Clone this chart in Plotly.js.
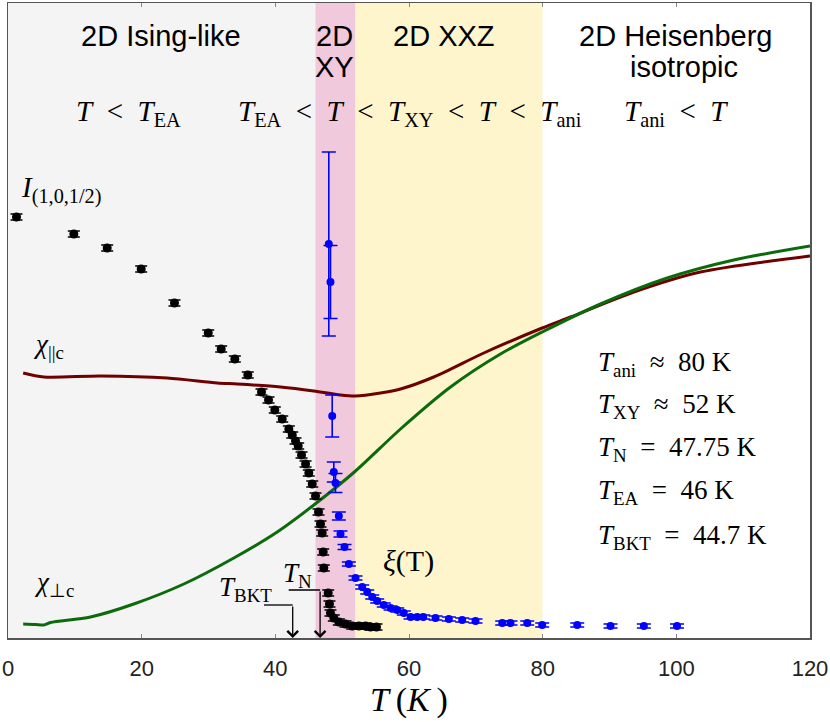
<!DOCTYPE html>
<html>
<head>
<meta charset="utf-8">
<script src="https://cdn.plot.ly/plotly-3.0.1.min.js"></script>
<style>html,body{margin:0;padding:0;background:#fff;}#plot{width:830px;height:722px;}</style>
</head>
<body>
<div id="plot"></div>
<script>
// ---- data (T in K, intensities in arbitrary units) ----
const intT = [1.27, 9.85, 14.84, 19.93, 24.91, 29.96, 31.9, 33.94, 35.88, 37.93, 38.98, 39.92, 41.03, 42.02, 42.53, 43.02, 43.42, 43.92, 44.52, 45.01, 45.52, 46.01, 46.46, 46.76, 47.01, 47.16, 47.25, 47.91, 48.1, 48.25, 48.75, 49.5, 50.5, 51.5, 52.5, 53.5, 54.24, 55.14];
const intY = [421, 404, 390, 369, 335, 305, 289, 279, 263, 246, 238, 228, 219, 209, 203, 197, 192, 183, 174, 165, 154, 142, 126, 114, 105, 86, 70, 45, 34, 25, 20, 16, 14, 12, 12, 12, 11, 11];

const xiT = [48.0, 48.25, 48.51, 48.75, 49.0, 49.5, 49.75, 50.35, 51.0, 52.0, 53.0, 53.75, 54.5, 55.24, 56.23, 57.24, 58.24, 59.22, 60.23, 61.23, 62.13, 63.97, 65.96, 67.96, 69.95, 73.95, 75.19, 77.69, 79.93, 85.17, 90.15, 95.14, 100.1];
const xiY = [394, 356, 222, 166, 155, 122, 104, 91, 74, 60, 51, 46, 41, 37, 33, 30, 28, 25, 21, 21, 21, 20, 19, 18, 17, 15, 15, 15, 13, 13, 12, 12, 12];
const xiErr = [92, 36.5, 21, 10, 9.5, 4, 3, 2.5, 2, 2, 2, 2, 2, 2, 2, 2, 2, 2, 2, 2, 2, 2, 2, 2, 2, 2, 2, 2, 2, 2, 2, 2, 2];

const chiParT = [2.27, 5.36, 13.84, 23.82, 31.3, 34.3, 40.78, 45.76, 49.75, 51.99, 55.73, 58.73, 63.71, 71.19, 79.93, 84.17, 93.64, 103.6, 120];
const chiParY = [265, 261, 262, 260, 255, 254, 251, 247, 243, 242, 245, 249, 261, 285, 310, 321, 346, 366, 382];

const chiPerpT = [2.27, 4.11, 5.36, 6.36, 12.34, 18.82, 26.31, 33.79, 40.28, 45.76, 52.0, 58.73, 66.21, 73.69, 79.93, 88.66, 98.64, 108.6, 120];
const chiPerpY = [14, 13.5, 13, 15.5, 21, 34, 54, 80, 106, 133, 167, 209, 251, 284, 306, 334, 360, 378, 392];

const regionEdges = [0, 46, 52, 80, 120];
const regionColors = ['#f4f4f4', '#f0c9dc', '#fff5cd', '#ffffff'];
const xTicks = [0, 20, 40, 60, 80, 100, 120];
const arrowT = {BKT: 42.6, N: 46.7};

// ---- layout helpers ----
const SERIF = 'Liberation Serif, Times New Roman, serif';
const SANS = 'Liberation Sans, Arial, sans-serif';
const E = '\u2002';

const shapes = [];
for (let i = 0; i < regionColors.length; i++) {
  shapes.push({type: 'rect', xref: 'x', yref: 'paper', x0: regionEdges[i], x1: regionEdges[i + 1], y0: 0, y1: 1,
    fillcolor: regionColors[i], line: {width: 0}, layer: 'below'});
}
shapes.push({type: 'line', xref: 'x', yref: 'y', x0: 38.3, x1: arrowT.BKT, y0: 33, y1: 33, line: {color: '#000', width: 1.3}});
shapes.push({type: 'line', xref: 'x', yref: 'y', x0: 42.0, x1: arrowT.N, y0: 48, y1: 48, line: {color: '#000', width: 1.3}});

function txt(text, x, y, size, family, xanchor) {
  return {text: text, x: x, y: y, xref: 'x', yref: 'y', showarrow: false,
    xanchor: xanchor || 'center', yanchor: 'middle', font: {size: size, family: family, color: '#000'}};
}
const annotations = [
  txt('2D Ising-like', 22.9, 602.5, 29, SANS),
  txt('2D', 48.9, 602.5, 29, SANS),
  txt('XY', 48.9, 571, 29, SANS),
  txt('2D XXZ', 65.3, 602.5, 29, SANS),
  txt('2D Heisenberg', 99.9, 602.5, 29, SANS),
  txt('isotropic', 101.2, 571.5, 29, SANS),
  txt('<i>T</i>' + E + '&lt;' + E + '<i>T</i><sub>EA</sub>', 17.96, 525, 29, SERIF),
  txt('<i>T</i><sub>EA</sub>' + E + '&lt;' + E + '<i>T</i>' + E + '&lt;' + E + '<i>T</i><sub>XY</sub>' + E + '&lt;' + E + '<i>T</i>' + E + '&lt;' + E + '<i>T</i><sub>ani</sub>', 60.15, 525, 29, SERIF),
  txt('<i>T</i><sub>ani</sub>' + E + '&lt;' + E + '<i>T</i>', 99.95, 525, 29, SERIF),
  txt('<i>T</i><sub>ani</sub>' + E + '≈' + E + '80 K', 88.0, 274, 27, SERIF, 'left'),
  txt('<i>T</i><sub>XY</sub>' + E + '≈' + E + '52 K', 88.0, 232, 27, SERIF, 'left'),
  txt('<i>T</i><sub>N</sub>' + E + '=' + E + '47.75 K', 88.0, 189, 27, SERIF, 'left'),
  txt('<i>T</i><sub>EA</sub>' + E + '=' + E + '46 K', 88.0, 146, 27, SERIF, 'left'),
  txt('<i>T</i><sub>BKT</sub>' + E + '=' + E + '44.7 K', 88.0, 101, 27, SERIF, 'left'),
  txt('<i>I</i><sub>(1,0,1/2)</sub>', 1.7, 449, 29, SERIF, 'left'),
  txt('<i>χ</i><sub>||c</sub>', 3.5, 292, 27, SERIF, 'left'),
  txt('<i>χ</i><sub>⊥c</sub>', 3.6, 54, 27, SERIF, 'left'),
  txt('<i>ξ</i>(T)', 55.8, 77, 30, SERIF, 'left'),
  txt('<i>T</i><sub>BKT</sub>', 31.2, 49, 27, SERIF, 'left'),
  txt('<i>T</i><sub>N</sub>', 40.9, 63, 27, SERIF, 'left'),
  {x: arrowT.BKT, y: 0, ax: arrowT.BKT, ay: 33, xref: 'x', yref: 'y', axref: 'x', ayref: 'y', text: '', showarrow: true,
    arrowhead: 4, arrowsize: 1.6, arrowwidth: 1.3, arrowcolor: '#000', standoff: 0},
  {x: arrowT.N, y: 0, ax: arrowT.N, ay: 48, xref: 'x', yref: 'y', axref: 'x', ayref: 'y', text: '', showarrow: true,
    arrowhead: 4, arrowsize: 1.6, arrowwidth: 1.3, arrowcolor: '#000', standoff: 0}
];

const traces = [
  {x: chiParT, y: chiParY, mode: 'lines', line: {color: '#6e0000', width: 3, shape: 'spline', smoothing: 0.8}, hoverinfo: 'skip'},
  {x: chiPerpT, y: chiPerpY, mode: 'lines', line: {color: '#0b6b0b', width: 3, shape: 'spline', smoothing: 0.8}, hoverinfo: 'skip'},
  {x: intT, y: intY, mode: 'markers', marker: {color: '#000', size: 9},
    error_y: {type: 'constant', value: 3, width: 6, thickness: 1.3, color: '#000'}, hoverinfo: 'skip'},
  {x: xiT, y: xiY, mode: 'markers', marker: {color: '#0000ff', size: 8},
    error_y: {type: 'data', array: xiErr, width: 7, thickness: 1.6, color: '#0000ff'}, hoverinfo: 'skip'}
];

const layout = {
  width: 830, height: 722,
  margin: {l: 8, r: 20, t: 3, b: 84},
  paper_bgcolor: '#fff', plot_bgcolor: '#fff',
  showlegend: false,
  xaxis: {range: [0, 120], tickvals: xTicks, ticktext: xTicks.map(String), ticks: 'inside', ticklen: 4, tickcolor: '#888',
    showline: true, linecolor: '#555', linewidth: 1.5, mirror: 'ticks', showgrid: false, zeroline: false,
    tickfont: {family: SANS, size: 22, color: '#222'}, ticklabelstandoff: 10,
    title: {text: '<i>T</i>\u2009(<i>K</i>\u2009)', font: {family: SERIF, size: 34, color: '#000'}, standoff: 4}},
  yaxis: {range: [0, 635], showticklabels: false, ticks: '', showline: true, linecolor: '#555', linewidth: 1.5, mirror: true,
    showgrid: false, zeroline: false},
  shapes: shapes,
  annotations: annotations
};

Plotly.newPlot('plot', traces, layout, {displayModeBar: false, staticPlot: true});
</script>
</body>
</html>
